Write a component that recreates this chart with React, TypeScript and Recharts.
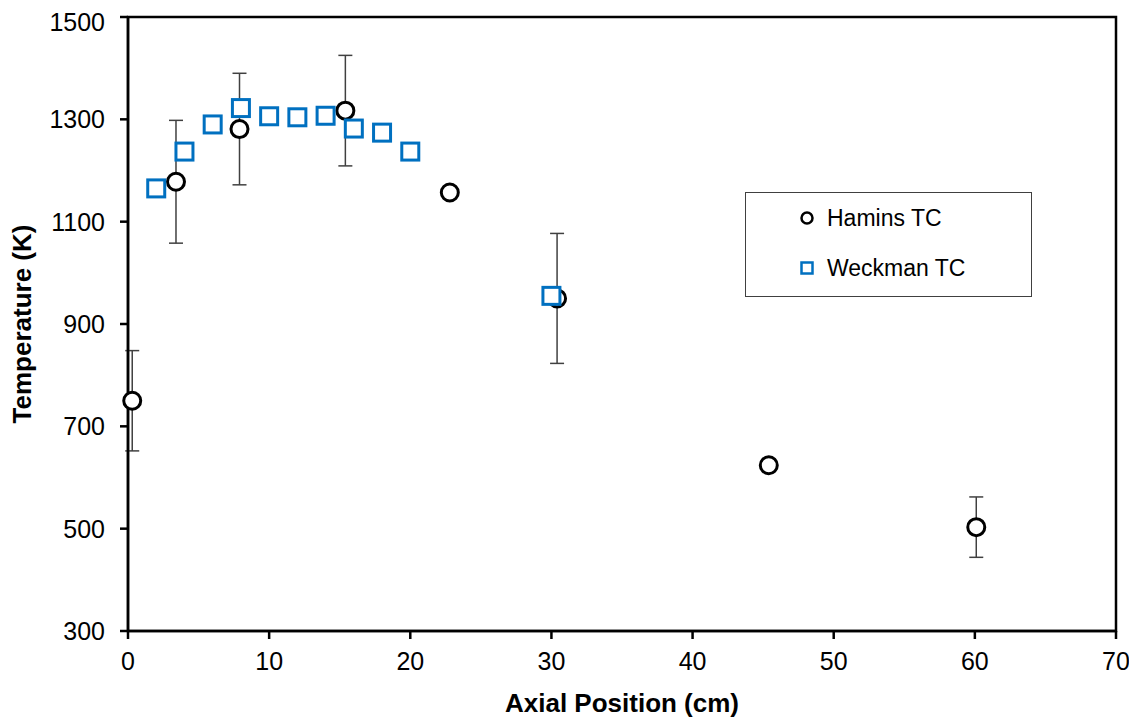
import React from "react";
import { ScatterChart, Scatter, XAxis, YAxis, ErrorBar, ReferenceArea, Legend, Label } from "recharts";

// Hamins TC thermocouple data (circles)
const haminsPos = [0.3, 3.4, 7.9, 15.4, 22.8, 30.4, 45.4, 60.1];
const haminsTemp = [750, 1178, 1281, 1317, 1157, 950, 624, 503];
const haminsErr = [98, 120, 109, 108, null, 127, null, 59];

// Weckman TC thermocouple data (squares)
const weckmanPos = [2, 4, 6, 8, 10, 12, 14, 16, 18, 20, 30];
const weckmanTemp = [1165, 1237, 1290, 1322, 1306, 1304, 1307, 1282, 1274, 1237, 955];

const xTicks = [0, 10, 20, 30, 40, 50, 60, 70];
const yTicks = [300, 500, 700, 900, 1100, 1300, 1500];

const FONT = '"Liberation Sans", Arial, sans-serif';
const BLUE = "#0070C0";

const hamins = haminsPos.map((x, i) => ({ x, y: haminsTemp[i], err: haminsErr[i] }));
const weckman = weckmanPos.map((x, i) => ({ x, y: weckmanTemp[i] }));

const CircleMark = (props: any) => (
  <circle cx={props.cx} cy={props.cy} r={8.5} fill="#fff" stroke="#000" strokeWidth={3} />
);

const SquareMark = (props: any) => (
  <rect x={props.cx - 8.5} y={props.cy - 8.5} width={17} height={17} fill="#fff" stroke={BLUE} strokeWidth={3} />
);

const LegendBox = (props: any) => {
  const items = props.payload || [];
  return (
    <div style={{ width: 287, height: 105, boxSizing: "border-box", border: "1.5px solid #404040", background: "#fff" }}>
      <svg width={284} height={102} style={{ display: "block" }}>
        {items.map((it: any, i: number) => {
          const cy = 25 + i * 50;
          return (
            <g key={it.value}>
              {it.value === "Hamins TC" ? (
                <circle cx={61} cy={cy} r={5.5} fill="#fff" stroke="#000" strokeWidth={2.5} />
              ) : (
                <rect x={55.5} y={cy - 5.5} width={11} height={11} fill="#fff" stroke={BLUE} strokeWidth={2.5} />
              )}
              <text x={81} y={cy + 8} fontFamily={FONT} fontSize={23} fill="#000">
                {it.value}
              </text>
            </g>
          );
        })}
      </svg>
    </div>
  );
};

export default function App() {
  return (
    <ScatterChart width={1129} height={711} margin={{ top: 9, right: 21, bottom: 0, left: 0 }}>
      <XAxis
        type="number"
        dataKey="x"
        domain={[0, 70]}
        ticks={xTicks}
        height={88}
        tickSize={8}
        tickMargin={13}
        stroke="#000"
        strokeWidth={2.5}
        tick={{ fill: "#000", fontSize: 25, fontFamily: FONT }}
      >
        <Label
          content={({ viewBox }: any) => (
            <text x={viewBox.x + viewBox.width / 2} y={viewBox.y + 81} textAnchor="middle" fontFamily={FONT} fontWeight="bold" fontSize={26} fill="#000">
              Axial Position (cm)
            </text>
          )}
        />
      </XAxis>
      <YAxis
        type="number"
        dataKey="y"
        domain={[300, 1500]}
        ticks={yTicks}
        width={120}
        tickSize={8}
        tickMargin={15}
        stroke="#000"
        strokeWidth={2.5}
        tick={{ fill: "#000", fontSize: 25, fontFamily: FONT }}
      >
        <Label
          content={({ viewBox }: any) => {
            const cx = viewBox.x + 14;
            const cy = viewBox.y + viewBox.height / 2;
            return (
              <text x={cx} y={cy} transform={`rotate(-90 ${cx} ${cy})`} textAnchor="middle" dominantBaseline="central" fontFamily={FONT} fontWeight="bold" fontSize={26} fill="#000">
                Temperature (K)
              </text>
            );
          }}
        />
      </YAxis>
      <ReferenceArea x1={0} x2={70} y1={300} y2={1500} fill="none" stroke="#000" strokeWidth={2.5} ifOverflow="visible" />
      <Legend layout="vertical" align="center" verticalAlign="middle" content={LegendBox} wrapperStyle={{ left: 737, top: 184, width: 287, height: 105 }} />
      <Scatter name="Hamins TC" data={hamins} shape={CircleMark} fill="#000" isAnimationActive={false}>
        <ErrorBar dataKey="err" direction="y" width={7} stroke="#404040" strokeWidth={1.5} />
      </Scatter>
      <Scatter name="Weckman TC" data={weckman} shape={SquareMark} fill={BLUE} isAnimationActive={false} />
    </ScatterChart>
  );
}
